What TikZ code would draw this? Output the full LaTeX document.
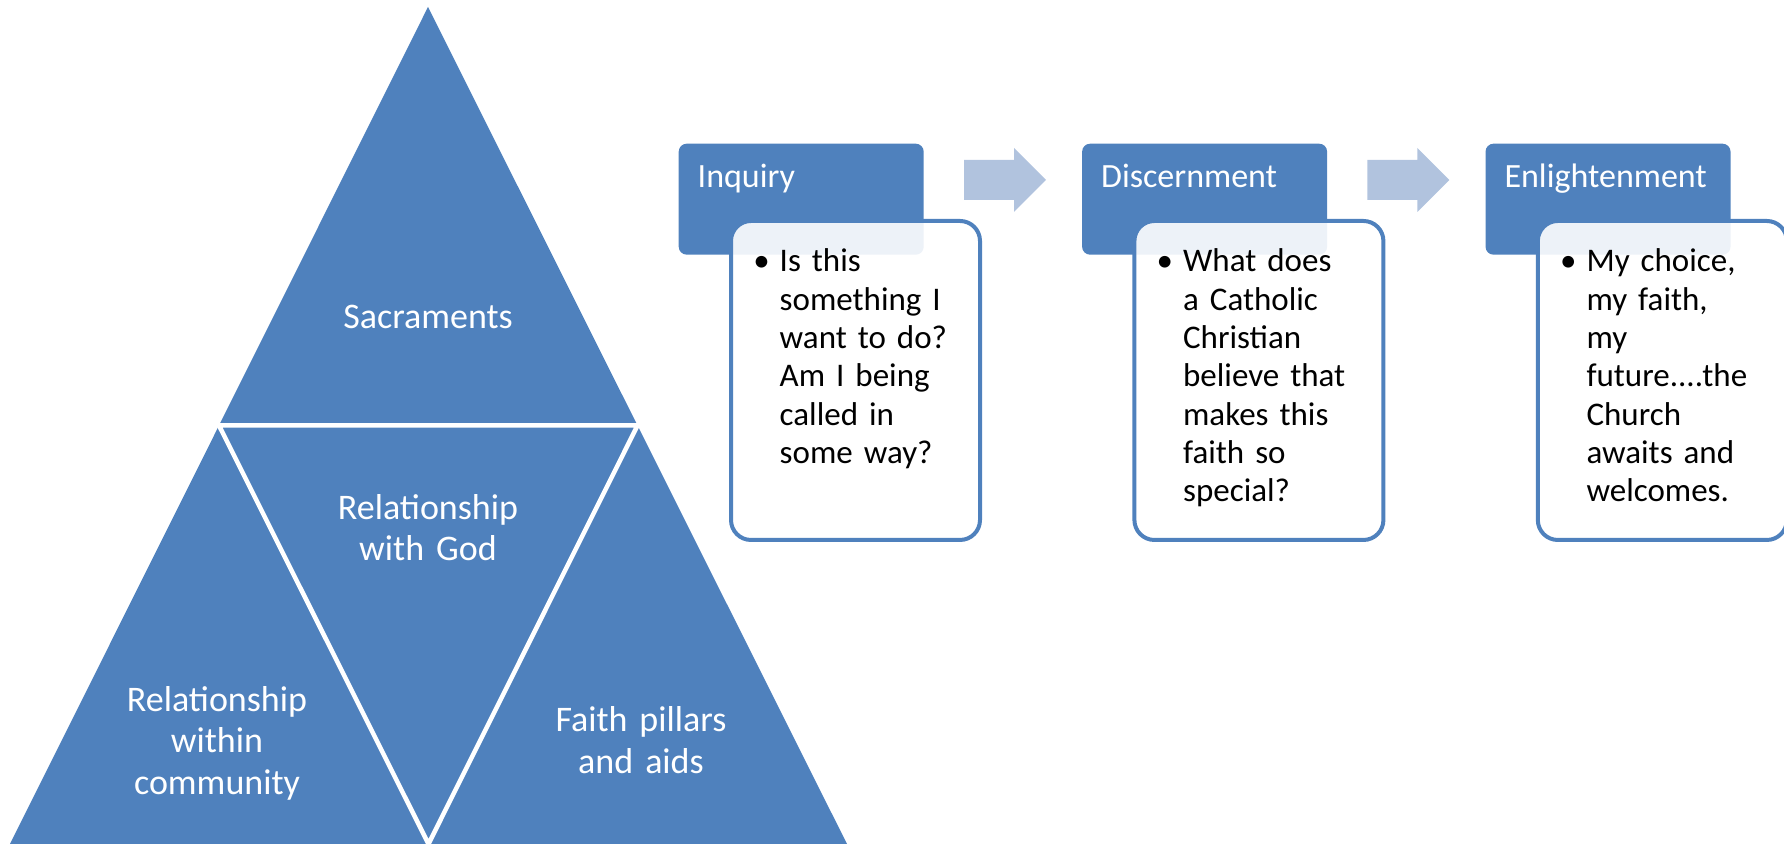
\documentclass[tikz,border=0pt]{standalone}
\usepackage{fontspec}
\setmainfont{Carlito}
\usetikzlibrary{calc,positioning}

\definecolor{pyramid}{HTML}{4F81BD}
\definecolor{flowarrow}{HTML}{B1C3DE}

\newcommand{\trifont}{\fontsize{10.24pt}{11.67pt}\selectfont}
\newcommand{\headfont}{\fontsize{9.67pt}{11pt}\selectfont}
\newcommand{\bodyfont}{\fontsize{9.39pt}{10.9pt}\selectfont}
\newcommand{\bul}{\llap{\textbullet\hspace{0.1cm}}}

\tikzset{
  tri label/.style={text=white, font=\trifont, text width=2.4cm, align=center,
    inner sep=0pt, anchor=base},
  stage/.style={fill=pyramid, rounded corners=0.08cm, text=white, font=\headfont,
    inner xsep=0.19cm, inner ysep=0pt, text width=2.07cm, align=left,
    text height=0.44cm, text depth=0.67cm},
  note/.style={draw=pyramid, line width=0.04cm, fill=white, fill opacity=0.9,
    rounded corners=0.2cm, minimum width=2.49cm, minimum height=3.19cm,
    inner sep=0pt, anchor=north west},
  note text/.style={font=\bodyfont, text width=2.2cm, align=left,
    inner sep=0pt, anchor=base west},
}

\begin{document}
\begin{tikzpicture}
  \useasboundingbox (0,0) rectangle (17.84,8.44);
  % pyramid
  \coordinate (apex) at (4.28,8.37);
  \coordinate (bl) at (0.10,0);
  \coordinate (br) at (8.47,0);
  \fill[pyramid] (apex) -- (bl) -- (br) -- cycle;
  \draw[white, line width=0.045cm]
    ($(apex)!0.5!(bl)$) -- ($(apex)!0.5!(br)$) -- ($(bl)!0.5!(br)$) -- cycle;
  \node[tri label] (sacr) at (4.28,5.15) {Sacraments};
  \node[tri label] (god) at (4.28,3.24) {Relationship\\with God};
  \node[tri label] (comm) at (2.17,1.32) {Relationship\\within\\community};
  \node[tri label] (aids) at (6.41,1.12) {Faith pillars\\and aids};
  % stages
  \node[stage, anchor=north west] (inq) at (6.78,7.01) {Inquiry};
  \node[stage, right=1.57cm of inq] (dis) {Discernment};
  \node[stage, right=1.57cm of dis] (enl) {Enlightenment};
  \foreach \s in {inq,dis}
    \fill[flowarrow] ($(\s.north west)+(2.86,-0.17)$) -- ++(0.50,0) -- ++(0,0.12)
      -- ++(0.32,-0.32) -- ++(-0.32,-0.32) -- ++(0,0.12) -- ++(-0.50,0) -- cycle;
  \node[note] (inqbox) at ($(inq.north west)+(0.51,-0.76)$) {};
  \node[note] (disbox) at ($(dis.north west)+(0.51,-0.76)$) {};
  \node[note] (enlbox) at ($(enl.north west)+(0.51,-0.76)$) {};
  \node[note text] (inqtext) at ($(inq.north west)+(1.01,-1.29)$)
    {\bul Is this\\something I\\want to do?\\Am I being\\called in\\some way?};
  \node[note text] (distext) at ($(dis.north west)+(1.01,-1.29)$)
    {\bul What does\\a Catholic\\Christian\\believe that\\makes this\\faith so\\special?};
  \node[note text] (enltext) at ($(enl.north west)+(1.01,-1.29)$)
    {\bul My choice,\\my faith,\\my\\future....the\\Church\\awaits and\\welcomes.};
\end{tikzpicture}
\end{document}
